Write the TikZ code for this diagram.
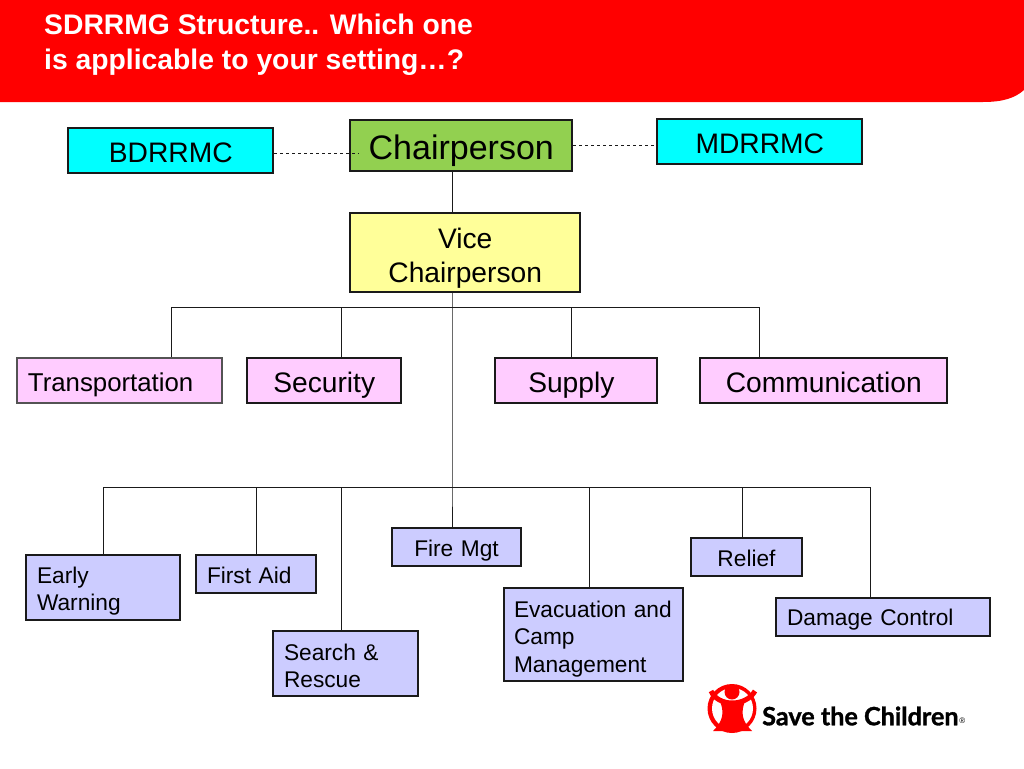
\documentclass[tikz,border=0pt]{standalone}
\usepackage{fontspec}
\setmainfont{Liberation Sans}
\newfontfamily\logofont{Lato}[BoldFeatures={FakeBold=1.2}]
\usetikzlibrary{positioning}
\definecolor{hdrred}{HTML}{FF0000}
\definecolor{boxcyan}{HTML}{00FFFF}
\definecolor{boxgreen}{HTML}{92D050}
\definecolor{boxyellow}{HTML}{FFFF99}
\definecolor{boxpink}{HTML}{FFCCFF}
\definecolor{boxblue}{HTML}{CCCCFF}
\definecolor{edge}{HTML}{1A1A1A}
\tikzset{
  topbox/.style={draw=edge,line width=1.7pt,inner sep=0pt,anchor=north west,align=center,xshift=-0.6pt,yshift=0.6pt},
  unitbox/.style={topbox,fill=boxpink,font=\fontsize{28.2}{33}\selectfont,text height=34pt,text depth=11pt},
  teambox/.style={draw=edge,line width=1.2pt,inner sep=0pt,anchor=north west,fill=boxblue,font=\fontsize{22.7}{27.5}\selectfont,align=left,xshift=-0.6pt,yshift=0.6pt},
  link/.style={line width=0.8pt,draw=edge}
}
\begin{document}
\begin{tikzpicture}[x=1pt,y=-1pt]
\useasboundingbox (0,0) rectangle (1024,768);
% header band
\fill[hdrred] (0,0) -- (1024,0) -- (1024,90) .. controls (1015,98) and (1003,102) .. (983,102) -- (0,102) -- cycle;
\node[anchor=north west,inner sep=0pt,text=white,align=left,font=\fontsize{28.3}{35}\selectfont\bfseries] (title) at (44,13.5) {SDRRMG Structure.. Which one\\is applicable to your setting\dots?};
% top row
\node[topbox,fill=boxcyan,text width=205pt,text height=34pt,text depth=11pt,font=\fontsize{28.2}{33}\selectfont] (bdr) at (68,128) {BDRRMC};
\node[topbox,fill=boxgreen,text width=222pt,text height=39.5pt,text depth=11.5pt,font=\fontsize{34}{40}\selectfont] (chair) at (350,120) {Chairperson};
\node[topbox,fill=boxcyan,text width=205pt,text height=34pt,text depth=11pt,font=\fontsize{28.2}{33}\selectfont] (mdr) at (657,119) {MDRRMC};
\node[topbox,fill=boxyellow,text width=230pt,text height=35pt,text depth=44pt,font=\fontsize{28.2}{34}\selectfont] (vice) at (350,213) {Vice\\Chairperson};
% units
\node[unitbox,draw=edge!75,line width=1.1pt,font=\fontsize{25.8}{33}\selectfont,text width=183pt,inner xsep=11pt,align=left] (transport) at (17,358) {Transportation};
\node[unitbox,text width=154pt] (security) at (247,358) {Security};
\node[unitbox,text width=96pt,inner xsep=33pt,align=left] (supply) at (495,358) {Supply};
\node[unitbox,text width=247pt] (comm) at (700,358) {Communication};
% teams
\node[teambox,text width=132pt,inner xsep=11pt,text height=28pt,text depth=37pt] (early) at (26,555) {Early\\Warning};
\node[teambox,text width=98pt,inner xsep=11pt,text height=28pt,text depth=10pt] (aid) at (196,555) {First Aid};
\node[teambox,text width=123pt,inner xsep=11pt,text height=29pt,text depth=36pt] (search) at (273,631) {Search \&\\Rescue};
\node[teambox,text width=105pt,inner xsep=12pt,text height=28pt,text depth=10pt,align=center] (fire) at (392,528) {Fire Mgt};
\node[teambox,text width=159pt,inner xsep=10pt,text height=29pt,text depth=64pt] (evac) at (504,588) {Evacuation and\\Camp\\Management};
\node[teambox,text width=111pt,text height=28pt,text depth=10pt,align=center] (relief) at (691,538) {Relief};
\node[teambox,text width=192pt,inner xsep=11pt,text height=27pt,text depth=11pt] (damage) at (776,598) {Damage Control};
% bus points
\coordinate (busa) at (452,307);
\coordinate (busb) at (452,487);
\coordinate (tapa) at (171,307);
\coordinate (tapb) at (341,307);
\coordinate (tapc) at (571,307);
\coordinate (tapd) at (759,307);
\coordinate (tape) at (103,487);
\coordinate (tapf) at (256,487);
\coordinate (tapg) at (341,487);
\coordinate (taph) at (589,487);
\coordinate (tapi) at (742,487);
\coordinate (tapj) at (870,487);
\draw[link,dashed] ([yshift=-2.5pt]bdr.east) -- ([yshift=-2.5pt]bdr.east -| chair.west) -- ++(10,0);
\draw[link,dashed] ([yshift=-3.5pt]chair.east |- mdr.west) -- ([yshift=-3.5pt]mdr.west);
\draw[link] (chair.south -| busa) -- (vice.north -| busa);
\draw[link] (vice.south -| busa) -- (busb) -- (fire.north -| busb);
\draw[link] (tapa) -- (tapd);
\draw[link] (tape) -- (tapj);
\foreach \t/\n in {tapa/transport,tapb/security,tapc/supply,tapd/comm,tape/early,tapf/aid,tapg/search,taph/evac,tapi/relief,tapj/damage}{
  \draw[link] (\t) -- (\t |- \n.north);
}
% logo
\fill[hdrred] (732,708.5) circle (24.5);
\fill[white] (732.5,708.5) circle (20.5);
\fill[hdrred] (732,692) circle (7.5);
\draw[hdrred,line width=5pt] (711,691) .. controls (718,707) and (746,707) .. (755,691);
\fill[hdrred] (720,701) -- (745,701) .. controls (741,712) and (741,720) .. (752,731) -- (713,731) .. controls (724,720) and (724,712) .. (720,701) -- cycle;
\node[anchor=west,inner sep=0pt,font=\fontsize{25.2}{28}\selectfont\logofont\bfseries] (logo) at (762,716) {Save the Children};
\node[anchor=west,inner sep=0pt,font=\fontsize{8}{9}\selectfont,right=0.5pt of logo.south east,yshift=5pt] (reg) {\textregistered};
\end{tikzpicture}
\end{document}
